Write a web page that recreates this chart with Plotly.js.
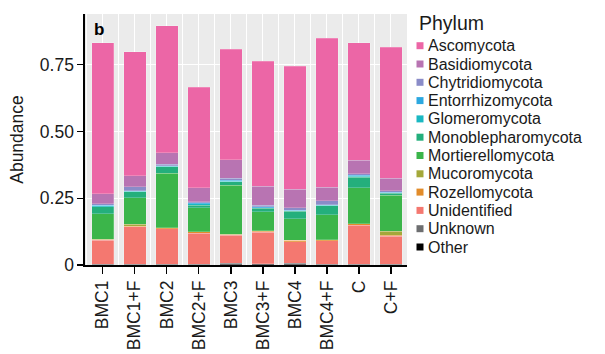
<!DOCTYPE html>
<html>
<head>
<meta charset="utf-8">
<script src="https://cdn.plot.ly/plotly-3.0.1.min.js"></script>
<style>html,body{margin:0;padding:0;background:#fff;}#chart{width:605px;height:354px;}</style>
</head>
<body>
<div id="chart"></div>
<script>
// ---- data ----
const samples = ["BMC1","BMC1+F","BMC2","BMC2+F","BMC3","BMC3+F","BMC4","BMC4+F","C","C+F"];
const yTickVals = [0, 0.25, 0.5, 0.75];
const yTickText = ["0", "0.25", "0.50", "0.75"];
// phyla listed in legend order (top of legend first)
const phyla = ["Ascomycota","Basidiomycota","Chytridiomycota","Entorrhizomycota","Glomeromycota",
  "Monoblepharomycota","Mortierellomycota","Mucoromycota","Rozellomycota","Unidentified","Unknown","Other"];
const ascomycota        = [0.565, 0.464, 0.476, 0.375, 0.414, 0.469, 0.462, 0.559, 0.440, 0.491];
const basidiomycota     = [0.038, 0.040, 0.042, 0.054, 0.070, 0.071, 0.068, 0.051, 0.052, 0.046];
const chytridiomycota   = [0.006, 0.015, 0.006, 0.003, 0.006, 0.006, 0.010, 0.015, 0.004, 0.006];
const entorrhizomycota  = [0.002, 0.003, 0.002, 0.003, 0.004, 0.003, 0.002, 0.002, 0.004, 0.003];
const glomeromycota     = [0.002, 0.002, 0.002, 0.006, 0.003, 0.002, 0.001, 0.001, 0.005, 0.002];
const monoblepharomycota= [0.027, 0.022, 0.025, 0.009, 0.013, 0.013, 0.028, 0.033, 0.039, 0.007];
const mortierellomycota = [0.096, 0.100, 0.203, 0.090, 0.183, 0.072, 0.081, 0.094, 0.134, 0.135];
const mucoromycota      = [0.002, 0.006, 0.001, 0.001, 0.001, 0.001, 0.001, 0.001, 0.001, 0.015];
const rozellomycota     = [0.001, 0.002, 0.003, 0.005, 0.003, 0.004, 0.004, 0.003, 0.005, 0.004];
const unidentified      = [0.091, 0.141, 0.134, 0.117, 0.104, 0.119, 0.081, 0.089, 0.147, 0.105];
const unknown           = [0.002, 0.003, 0.002, 0.002, 0.007, 0.004, 0.007, 0.002, 0.002, 0.002];
const other             = [0, 0, 0, 0, 0, 0, 0, 0, 0, 0];
const seriesValues = [ascomycota, basidiomycota, chytridiomycota, entorrhizomycota, glomeromycota,
  monoblepharomycota, mortierellomycota, mucoromycota, rozellomycota, unidentified, unknown, other];

// ---- styles ----
const colors = ["#EC66A6","#B874B2","#8A8CC8","#2CA8E0","#1AB8C2","#24AF7C","#3BB54A",
  "#A4A83A","#E28C2A","#F47870","#6D6E70","#000000"];
const FONT = "Liberation Sans, Arial, Helvetica, sans-serif";
const W = 605, H = 354, mL = 85, mR = 198, mT = 14, mB = 89;
const pw = W - mL - mR, ph = H - mT - mB;
const px = v => (v - mL) / pw;      // pixel -> paper (x)
const py = v => (H - mB - v) / ph;  // pixel -> paper (y)

const xIdx = samples.map((_, i) => i);

// bottom of the stack first (ggplot draws first level on top)
const traces = [];
for (let k = phyla.length - 1; k >= 0; k--) {
  traces.push({
    type: "bar", name: phyla[k], x: xIdx, y: seriesValues[k], width: 0.7,
    marker: {color: colors[k], line: {color: "rgba(255,255,255,0.35)", width: 0.6}},
    showlegend: false, hoverinfo: "name+y"
  });
}

// manual legend (ggplot-like compact keys)
const annotations = [];
const shapes = [];
annotations.push({xref: "paper", yref: "paper", x: px(417), y: py(23), xanchor: "left", yanchor: "middle",
  text: "Phylum", showarrow: false, font: {family: FONT, size: 19.5, color: "#1a1a1a"}});
phyla.forEach((p, i) => {
  const cy = 45.7 + i * 18.3;
  annotations.push({xref: "paper", yref: "paper", x: px(426.5), y: py(cy), xanchor: "left", yanchor: "middle",
    text: p, showarrow: false, borderpad: 0, font: {family: FONT, size: 16, color: "#1a1a1a"}});
  shapes.push({type: "rect", xref: "paper", yref: "paper", x0: px(416.5), x1: px(423.5),
    y0: py(cy + 3.5), y1: py(cy - 3.5), fillcolor: colors[i], line: {width: 0}});
});
// panel tag
annotations.push({xref: "paper", yref: "paper", x: px(92), y: py(18), xanchor: "left", yanchor: "top",
  text: "<b>b</b>", showarrow: false, font: {family: FONT, size: 17, color: "#000"}});

const layout = {
  width: W, height: H,
  margin: {l: mL, r: mR, t: mT, b: mB, pad: 0},
  paper_bgcolor: "#ffffff", plot_bgcolor: "#EBEBEB",
  barmode: "stack", bargap: 0.3, showlegend: false,
  font: {family: FONT, size: 17, color: "#1a1a1a"},
  xaxis: {
    range: [-0.555, 9.5], tickmode: "array", tickvals: xIdx, ticktext: samples,
    tickangle: -90, ticks: "outside", ticklen: 7, tickwidth: 1.3, tickcolor: "#000",
    showline: true, linecolor: "#000", linewidth: 1.6,
    showgrid: true, gridcolor: "#ffffff", gridwidth: 1,
    minor: {dtick: 0.5, tick0: 0.5, showgrid: true, gridcolor: "#ffffff", gridwidth: 1, ticks: ""},
    zeroline: false, fixedrange: true,
    tickfont: {family: FONT, size: 17.5, color: "#1a1a1a"}
  },
  yaxis: {
    range: [0, 0.94], tickmode: "array", tickvals: yTickVals, ticktext: yTickText,
    ticks: "outside", ticklen: 6, tickwidth: 1.3, tickcolor: "#000",
    showline: true, linecolor: "#000", linewidth: 1.6,
    showgrid: true, gridcolor: "#ffffff", gridwidth: 1,
    zeroline: false, fixedrange: true,
    tickfont: {family: FONT, size: 17.5, color: "#1a1a1a"},
    title: {text: "Abundance", font: {family: FONT, size: 17.5, color: "#1a1a1a"}, standoff: 12}
  },
  annotations: annotations,
  shapes: shapes
};

Plotly.newPlot("chart", traces, layout, {displayModeBar: false, staticPlot: true});
</script>
</body>
</html>
